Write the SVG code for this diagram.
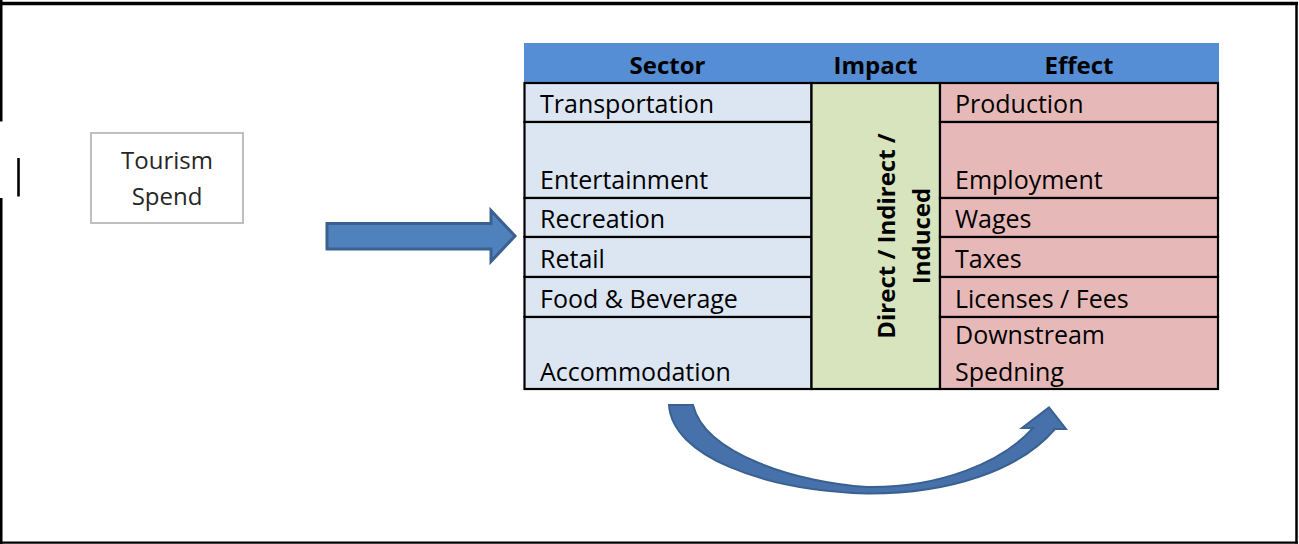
<svg xmlns="http://www.w3.org/2000/svg" width="1299" height="544" viewBox="0 0 1299 544">
  <style>
    .frame { stroke: #000; fill: none; }
    .cell { stroke: #000; stroke-width: 2.2; }
    .sec { fill: #DCE6F2; }
    .imp { fill: #D7E4BD; }
    .eff { fill: #E6B9B8; }
    .t { font-family: "Open Sans", "Liberation Sans", sans-serif; font-size: 25px; fill: #000; }
    .h { font-family: "Open Sans", "Liberation Sans", sans-serif; font-size: 24px; font-weight: bold; fill: #000; text-anchor: middle; }
    .v { font-family: "Open Sans", "Liberation Sans", sans-serif; font-size: 24px; font-weight: bold; fill: #000; text-anchor: middle; }
    .ts { font-family: "Open Sans", "Liberation Sans", sans-serif; font-size: 24px; fill: #262626; text-anchor: middle; }
    .arrow { fill: #4F81BD; stroke: #3A6190; stroke-width: 3; stroke-linejoin: miter; }
    .curve { fill: #4671AA; stroke: #3A6190; stroke-width: 2; }
  </style>
  <rect x="0" y="0" width="1299" height="544" fill="#fff"/>
  <g id="frame">
    <line class="frame" x1="0" y1="3.5" x2="1298" y2="3.5" stroke-width="3.5"/>
    <line class="frame" x1="1296.5" y1="2" x2="1296.5" y2="543.5" stroke-width="2.5"/>
    <line class="frame" x1="0" y1="542.7" x2="1298" y2="542.7" stroke-width="2.2"/>
    <line class="frame" x1="1.2" y1="0" x2="1.2" y2="121.5" stroke-width="2.6"/>
    <line class="frame" x1="1.2" y1="198" x2="1.2" y2="544" stroke-width="2.6"/>
    <line class="frame" x1="18.5" y1="158" x2="18.5" y2="196.5" stroke-width="2.6"/>
  </g>
  <g id="tourism-spend">
    <rect x="91" y="133" width="152" height="90" fill="#fff" stroke="#BFBFBF" stroke-width="2"/>
    <text class="ts" x="167" y="169">Tourism</text>
    <text class="ts" x="167" y="204.5">Spend</text>
  </g>
  <g id="table">
    <rect x="524" y="43" width="695" height="40" fill="#558ED5"/>
    <text class="h" x="667.5" y="73.5">Sector</text>
    <text class="h" x="875.5" y="73.5">Impact</text>
    <text class="h" x="1079" y="73.5">Effect</text>
    <g id="sector-col">
      <rect class="cell sec" x="524.5" y="83" width="287" height="39"/>
      <rect class="cell sec" x="524.5" y="122" width="287" height="76"/>
      <rect class="cell sec" x="524.5" y="198" width="287" height="39"/>
      <rect class="cell sec" x="524.5" y="237" width="287" height="40"/>
      <rect class="cell sec" x="524.5" y="277" width="287" height="40"/>
      <rect class="cell sec" x="524.5" y="317" width="287" height="72"/>
      <text class="t" x="540" y="113">Transportation</text>
      <text class="t" x="540" y="189">Entertainment</text>
      <text class="t" x="540" y="228">Recreation</text>
      <text class="t" x="540" y="268">Retail</text>
      <text class="t" x="540" y="308">Food &amp; Beverage</text>
      <text class="t" x="540" y="381">Accommodation</text>
    </g>
    <g id="impact-col">
      <rect class="cell imp" x="811.5" y="83" width="128.5" height="306"/>
      <text class="v" transform="translate(895,236) rotate(-90)" x="0" y="0">Direct / Indirect /</text>
      <text class="v" transform="translate(930,236) rotate(-90)" x="0" y="0">Induced</text>
    </g>
    <g id="effect-col">
      <rect class="cell eff" x="940" y="83" width="278" height="39"/>
      <rect class="cell eff" x="940" y="122" width="278" height="76"/>
      <rect class="cell eff" x="940" y="198" width="278" height="39"/>
      <rect class="cell eff" x="940" y="237" width="278" height="40"/>
      <rect class="cell eff" x="940" y="277" width="278" height="40"/>
      <rect class="cell eff" x="940" y="317" width="278" height="72"/>
      <text class="t" x="955" y="113">Production</text>
      <text class="t" x="955" y="189">Employment</text>
      <text class="t" x="955" y="228">Wages</text>
      <text class="t" x="955" y="268">Taxes</text>
      <text class="t" x="955" y="308">Licenses / Fees</text>
      <text class="t" x="955" y="344">Downstream</text>
      <text class="t" x="955" y="381">Spedning</text>
    </g>
  </g>
  <g id="connectors">
    <polygon class="arrow" points="327,223.5 491,223.5 491,210.5 515,236 491,261.5 491,249 327,249"/>
    <path class="curve" d="M669,405 L693,405 C705,455 800,483 867,487 C940,488 1003,462 1033,428 L1022,428 L1049,407.5 L1066,429 L1055,429 C1020,470 950,494 867,493.5 C760,490 672,455 669,405 Z"/>
  </g>
</svg>
